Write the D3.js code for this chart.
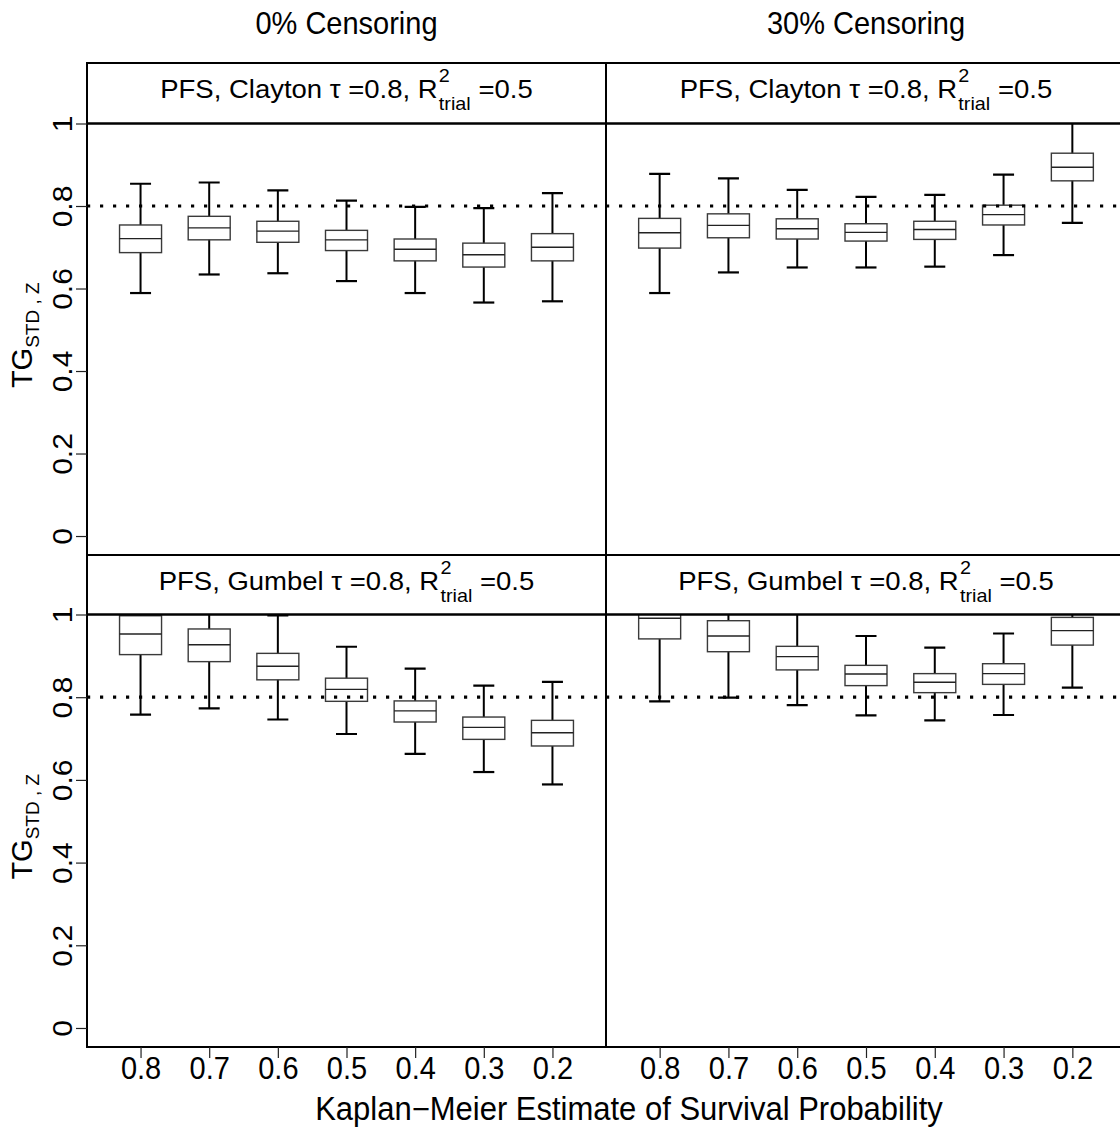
<!DOCTYPE html>
<html>
<head>
<meta charset="utf-8">
<script src="https://cdn.jsdelivr.net/npm/d3@7"></script>
<style>
  html, body { margin: 0; padding: 0; background: #fff; }
  svg { display: block; }
  text { font-family: "Liberation Sans", Arial, Helvetica, sans-serif; fill: #000; }
</style>
</head>
<body>
<svg id="chart" width="1120" height="1127"></svg>
<script>
// Kaplan–Meier survival probability at which the surrogate is evaluated
const categories = ["0.8", "0.7", "0.6", "0.5", "0.4", "0.3", "0.2"];

// Box statistics per category: [lower whisker, Q1, median, Q3, upper whisker]
const claytonNoCensoring = [
  [0.589, 0.687, 0.721, 0.754, 0.854],
  [0.634, 0.718, 0.747, 0.775, 0.857],
  [0.637, 0.712, 0.739, 0.763, 0.838],
  [0.618, 0.692, 0.718, 0.741, 0.813],
  [0.589, 0.667, 0.695, 0.720, 0.798],
  [0.566, 0.652, 0.682, 0.710, 0.795],
  [0.569, 0.667, 0.700, 0.733, 0.831]
];
const claytonCensored = [
  [0.589, 0.698, 0.735, 0.770, 0.878],
  [0.639, 0.723, 0.753, 0.781, 0.867],
  [0.651, 0.720, 0.745, 0.769, 0.839],
  [0.651, 0.715, 0.736, 0.757, 0.822],
  [0.653, 0.719, 0.743, 0.763, 0.827],
  [0.681, 0.754, 0.779, 0.802, 0.876],
  [0.759, 0.861, 0.894, 0.928, 1.030]
];
const gumbelNoCensoring = [
  [0.758, 0.903, 0.953, 0.997, 1.100],
  [0.773, 0.886, 0.927, 0.965, 1.080],
  [0.746, 0.842, 0.875, 0.906, 0.998],
  [0.711, 0.790, 0.819, 0.846, 0.922],
  [0.663, 0.740, 0.767, 0.791, 0.869],
  [0.619, 0.698, 0.727, 0.752, 0.828],
  [0.589, 0.682, 0.714, 0.744, 0.837]
];
const gumbelCensored = [
  [0.790, 0.941, 0.991, 1.040, 1.130],
  [0.799, 0.910, 0.948, 0.985, 1.080],
  [0.781, 0.866, 0.898, 0.923, 1.020],
  [0.756, 0.828, 0.856, 0.877, 0.948],
  [0.744, 0.811, 0.836, 0.857, 0.920],
  [0.757, 0.831, 0.857, 0.881, 0.954],
  [0.823, 0.926, 0.961, 0.993, 1.060]
];

const yTicks = [0, 0.2, 0.4, 0.6, 0.8, 1];
const referenceLevel = 0.8;
const columnTitles = ["0% Censoring", "30% Censoring"];
const copulaNames = ["Clayton", "Gumbel"];
const xTitle = "Kaplan\u2212Meier Estimate of Survival Probability";

const svg = d3.select("#chart");
const FONT = '"Liberation Sans", Arial, Helvetica, sans-serif';

// layout of the 2 x 2 grid of panels
const cols = [{ x0: 87, x1: 606 }, { x0: 606, x1: 1126 }];
const rows = [
  { stripTop: 63, top: 123.5, bottom: 555 },
  { stripTop: 555, top: 614.5, bottom: 1047 }
];
const panels = [
  { row: 0, col: 0, copula: 0, data: claytonNoCensoring },
  { row: 0, col: 1, copula: 0, data: claytonCensored },
  { row: 1, col: 0, copula: 1, data: gumbelNoCensoring },
  { row: 1, col: 1, copula: 1, data: gumbelCensored }
];

const defs = svg.append("defs");

panels.forEach((p, i) => {
  const c = cols[p.col], r = rows[p.row];
  const x = d3.scalePoint().domain(categories).range([c.x0, c.x1]).padding(0.78);
  const y = d3.scaleLinear().domain([-0.046, 1]).range([r.bottom, r.top]);

  defs.append("clipPath").attr("id", "clip" + i)
    .append("rect").attr("x", c.x0).attr("y", r.top)
    .attr("width", c.x1 - c.x0).attr("height", r.bottom - r.top);

  const g = svg.append("g").attr("clip-path", `url(#clip${i})`);
  const boxW = 42, capW = 21;

  const box = g.selectAll("g.box").data(p.data).join("g").attr("class", "box")
    .attr("transform", (d, k) => `translate(${x(categories[k])},0)`);

  // whiskers
  box.append("line").attr("x1", 0).attr("x2", 0)
    .attr("y1", d => y(d[3])).attr("y2", d => y(d[4]))
    .attr("stroke", "#000").attr("stroke-width", 2);
  box.append("line").attr("x1", 0).attr("x2", 0)
    .attr("y1", d => y(d[0])).attr("y2", d => y(d[1]))
    .attr("stroke", "#000").attr("stroke-width", 2);
  box.append("line").attr("x1", -capW / 2).attr("x2", capW / 2)
    .attr("y1", d => y(d[4])).attr("y2", d => y(d[4]))
    .attr("stroke", "#000").attr("stroke-width", 2.2);
  box.append("line").attr("x1", -capW / 2).attr("x2", capW / 2)
    .attr("y1", d => y(d[0])).attr("y2", d => y(d[0]))
    .attr("stroke", "#000").attr("stroke-width", 2.2);
  // box and median
  box.append("rect").attr("x", -boxW / 2).attr("width", boxW)
    .attr("y", d => y(d[3])).attr("height", d => y(d[1]) - y(d[3]))
    .attr("fill", "none").attr("stroke", "#3a3a3a").attr("stroke-width", 1.4);
  box.append("line").attr("x1", -boxW / 2).attr("x2", boxW / 2)
    .attr("y1", d => y(d[2])).attr("y2", d => y(d[2]))
    .attr("stroke", "#222").attr("stroke-width", 1.4);

  // dotted reference line
  g.append("line").attr("x1", c.x0).attr("x2", c.x1)
    .attr("y1", y(referenceLevel)).attr("y2", y(referenceLevel))
    .attr("stroke", "#000").attr("stroke-width", 3.2)
    .attr("stroke-dasharray", "3.2,9.8");

  // strip
  svg.append("rect").attr("x", c.x0).attr("y", r.stripTop)
    .attr("width", c.x1 - c.x0).attr("height", r.top - r.stripTop)
    .attr("fill", "#fff").attr("stroke", "#000").attr("stroke-width", 2);

  // strip label with stacked super/subscript on R
  const lab = svg.append("g");
  const t1 = lab.append("text").attr("x", 0).attr("y", 0)
    .attr("font-size", 25).text(`PFS, ${copulaNames[p.copula]} \u03c4 =0.8, R`);
  const w1 = t1.node().getComputedTextLength();
  const t2 = lab.append("text").attr("x", w1 + 1).attr("y", -16)
    .attr("font-size", 18).text("2");
  const t3 = lab.append("text").attr("x", w1 + 1).attr("y", 12)
    .attr("font-size", 18).text("trial");
  const w3 = Math.max(t2.node().getComputedTextLength(), t3.node().getComputedTextLength());
  const gap = 7;
  const t4 = lab.append("text").attr("x", w1 + w3 + 1 + gap).attr("y", 0)
    .attr("font-size", 25).text("=0.5");
  const total = w1 + w3 + 1 + gap + t4.node().getComputedTextLength();
  const sx = 1.1;
  lab.attr("transform",
    `translate(${(c.x0 + c.x1) / 2 - total * sx / 2},${r.stripTop + 34.5}) scale(${sx},1)`);

  // panel border
  svg.append("rect").attr("x", c.x0).attr("y", r.top)
    .attr("width", c.x1 - c.x0).attr("height", r.bottom - r.top)
    .attr("fill", "none").attr("stroke", "#000").attr("stroke-width", 2);

  // left axis on first column
  if (p.col === 0) {
    const ax = svg.append("g").attr("transform", `translate(${c.x0},0)`)
      .call(d3.axisLeft(y).tickValues(yTicks).tickSize(11).tickPadding(0)
        .tickFormat(d => d3.format("")(d)));
    ax.select(".domain").remove();
    ax.selectAll(".tick line").attr("stroke", "#222").attr("stroke-width", 1.2);
    ax.selectAll(".tick text")
      .attr("font-family", FONT).attr("font-size", 30).attr("fill", "#000")
      .attr("text-anchor", "middle").attr("x", 0).attr("y", 0).attr("dy", 0)
      .attr("transform", "translate(-15,0) scale(0.92,1) rotate(-90)");

    // y axis title
    const yt = svg.append("text")
      .attr("transform", `translate(32,${(r.top + r.bottom) / 2 - 4}) rotate(-90)`)
      .attr("text-anchor", "middle").attr("font-size", 29);
    yt.append("tspan").text("TG");
    yt.append("tspan").attr("font-size", 19).attr("dy", 7).text("STD , Z");
  }

  // bottom axis on second row
  if (p.row === 1) {
    const ax = svg.append("g").attr("transform", `translate(0,${r.bottom})`)
      .call(d3.axisBottom(x).tickSize(11).tickPadding(0));
    ax.select(".domain").remove();
    ax.selectAll(".tick line").attr("stroke", "#222").attr("stroke-width", 1.2);
    ax.selectAll(".tick text")
      .attr("font-family", FONT).attr("font-size", 29).attr("fill", "#000")
      .attr("y", 0).attr("dy", 0)
      .attr("transform", "translate(0,32) scale(1,1.08)");
  }
});

// column titles
columnTitles.forEach((t, k) => {
  svg.append("text")
    .attr("transform", `translate(${(cols[k].x0 + cols[k].x1) / 2},34) scale(1,1.08)`)
    .attr("text-anchor", "middle").attr("font-size", 29).text(t);
});

// x axis title
svg.append("text").attr("transform", "translate(629,1120) scale(1,1.05)")
  .attr("text-anchor", "middle").attr("font-size", 31).text(xTitle);
</script>
</body>
</html>
